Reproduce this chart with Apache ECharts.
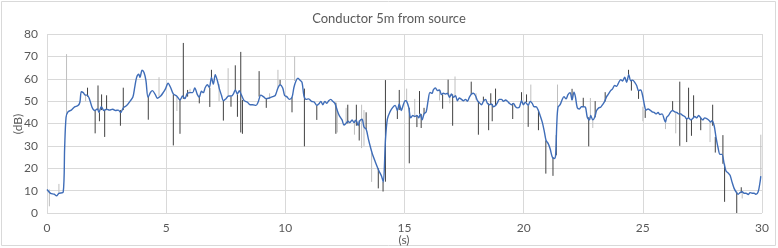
<!DOCTYPE html>
<html>
<head>
<meta charset="utf-8">
<script src="https://cdn.jsdelivr.net/npm/echarts@6/dist/echarts.min.js"></script>
<style>html,body{margin:0;padding:0;background:#fff}#c{width:778px;height:248px}</style>
</head>
<body>
<div id="c"></div>
<script>
// Blue line: time (s) and level (dB)
const times = [0.00,0.15,0.30,0.40,0.50,0.68,0.74,0.80,0.88,1.02,1.16,1.30,1.38,1.44,1.52,1.61,1.69,1.78,1.89,2.00,2.11,2.18,2.28,2.39,2.50,2.62,2.76,2.87,2.99,3.09,3.20,3.34,3.48,3.60,3.68,3.76,3.85,3.90,3.99,4.07,4.15,4.24,4.35,4.42,4.54,4.63,4.77,4.88,4.97,5.08,5.19,5.30,5.44,5.58,5.69,5.78,5.89,6.00,6.11,6.20,6.31,6.39,6.48,6.56,6.64,6.73,6.81,6.90,6.98,7.06,7.15,7.23,7.32,7.40,7.51,7.62,7.74,7.82,7.90,7.99,8.07,8.15,8.27,8.41,8.52,8.63,8.77,8.86,8.97,9.08,9.19,9.33,9.47,9.58,9.69,9.78,9.89,9.97,10.06,10.17,10.28,10.36,10.45,10.53,10.61,10.70,10.78,10.87,10.98,11.10,11.21,11.32,11.40,11.49,11.57,11.66,11.74,11.82,11.91,11.99,12.08,12.18,12.27,12.38,12.46,12.55,12.63,12.71,12.80,12.88,12.97,13.05,13.13,13.22,13.30,13.39,13.50,13.64,13.78,13.92,14.03,14.11,14.20,14.28,14.39,14.50,14.61,14.70,14.78,14.87,14.95,15.03,15.09,15.18,15.26,15.35,15.43,15.52,15.60,15.66,15.74,15.82,15.91,15.99,16.07,16.16,16.21,16.30,16.38,16.47,16.55,16.63,16.72,16.80,16.89,16.97,17.05,17.14,17.22,17.30,17.39,17.47,17.56,17.64,17.72,17.81,17.89,17.98,18.06,18.14,18.23,18.31,18.40,18.48,18.56,18.65,18.73,18.82,18.90,18.98,19.07,19.15,19.24,19.32,19.40,19.49,19.57,19.66,19.74,19.82,19.91,19.99,20.07,20.19,20.27,20.36,20.44,20.52,20.61,20.69,20.78,20.86,20.94,21.03,21.11,21.20,21.28,21.34,21.39,21.44,21.53,21.61,21.69,21.78,21.86,21.95,22.03,22.11,22.17,22.25,22.34,22.42,22.50,22.59,22.67,22.76,22.81,22.90,22.98,23.06,23.15,23.23,23.31,23.40,23.48,23.56,23.65,23.73,23.82,23.90,23.98,24.07,24.15,24.24,24.32,24.41,24.49,24.57,24.66,24.74,24.82,24.91,24.99,25.07,25.13,25.22,25.30,25.39,25.47,25.55,25.64,25.72,25.81,25.89,25.95,26.00,26.08,26.17,26.25,26.34,26.42,26.50,26.59,26.67,26.76,26.84,26.92,27.01,27.09,27.18,27.26,27.34,27.43,27.51,27.60,27.68,27.76,27.85,27.90,27.99,28.07,28.15,28.24,28.32,28.41,28.49,28.58,28.66,28.74,28.83,28.91,29.00,29.08,29.17,29.25,29.33,29.42,29.50,29.59,29.67,29.75,29.84,29.92,29.95];
const levels = [10.5,8.8,8.4,7.7,8.8,9.3,29,42.8,45.2,46,47.4,48,49.5,54.2,53.8,52.7,52.7,51,47.3,45.8,46.5,45,47.5,45.8,46.4,46,46.4,45.8,46,44.9,47,48,49.9,51.7,56.1,60.6,62,60.6,63.8,62.8,59.3,51.7,54,54.7,53,51.3,52.3,53.9,55.5,58,56,53.2,52.3,50.5,52.3,51.1,53.5,53.8,53.8,55.9,52.9,51.7,54.4,53.8,56.1,57.3,56.1,60.6,57.6,61.8,59.1,55.6,52.6,50.2,51.1,52.3,52.3,53.2,55,53.2,54.7,52.9,50.2,49.5,48.4,48.4,48.1,49.6,52.7,52,51.1,51.4,52,52.6,55.9,57.3,55.9,52.5,52,50.8,51.7,56.1,59.1,60.3,59.4,58.4,52.4,50.8,51,49.9,49.6,48.1,48.7,49.9,48.4,49.9,49,50.2,50.8,49.9,49,45.8,43.4,41.6,39.3,40.1,41,40.4,41.6,40.4,41.6,39.1,41.3,41.9,38.4,37.5,32.4,26.8,22.7,19,16.7,13.9,32.4,42,45.2,47.1,48.1,45.8,48.7,45.8,48.4,50.2,49.9,47.1,42.5,43.6,43.1,43.6,42.5,44.3,41.6,44.3,45.2,50.2,53.9,53.5,55,55.9,54.7,55,52.9,53.5,53.2,53.5,51.7,53.2,51.7,52.4,50.2,51.4,50.8,50.2,50.8,49.9,51.7,53.2,53.5,52.4,50.2,49.3,48.4,49.9,50.8,49,48.4,48.7,47.5,48,49.3,50.8,50.8,49.9,50.5,49.9,49,48.4,49,47.5,47,47.3,50.2,48.4,49.5,48.1,49.9,49,47.5,47.5,46,43.6,40.6,36.8,32.4,31,28.7,25,24.3,25.8,39.8,47.3,48.4,50.5,52,51,52.9,53.8,50.5,54,52,47,46.5,47.5,47.5,47.3,42.8,41.6,43.6,41.6,42.8,45.8,47,47.3,48.4,49.9,52,53.2,54.7,55.5,57,56.6,58.1,59.6,59,60.7,58.4,61.8,59.1,59.4,58.4,57,54.7,55,52.5,48.1,46,46.5,46,45.2,45,44.3,44.9,44,44.3,42.1,40.6,42.8,43.6,45.2,45.8,45.2,45,44.3,44.3,43.6,43.1,42.1,42.5,41.6,42.2,43.1,42.5,43.6,42.5,41.6,42.5,42.2,41.6,40.6,41.3,39.1,33.9,29.5,26.2,26.2,22.1,18.8,17.9,16.9,13.9,11,9.5,8.4,9.1,9.5,8.8,8.8,8.3,9.1,8.8,8.8,8.4,9.5,13.9,16.5];

// Dark error bars: time, low, high
const darkT  = [1.70,2.02,2.14,2.20,2.29,2.42,2.50,3.08,3.20,4.25,5.30,5.58,5.72,5.90,6.39,6.83,6.90,7.40,7.72,7.90,7.99,8.13,8.20,8.90,9.20,9.78,10.28,10.80,11.32,12.12,12.62,12.98,13.10,13.39,13.90,14.10,14.20,14.70,14.78,15.20,15.52,15.63,15.70,15.82,16.60,16.83,17.02,17.80,18.10,18.31,18.53,18.62,18.68,18.82,19.54,19.91,20.12,20.19,20.62,20.93,21.23,21.37,22.03,22.50,22.73,23.00,23.42,24.40,24.52,24.82,25.10,26.25,26.55,26.84,26.92,27.04,27.13,27.43,27.93,28.04,28.36,28.43,28.94,29.13];
const darkLo = [52,35.6,46,41,46,34,46,39,46,41.7,30.2,35.4,51,52,49,47.4,60.6,41.3,47.5,55,43,36,35.4,52,47,57.3,45,29.8,41.6,35.4,40,39,32.4,37.5,11,9.6,14,42,46,22.2,38.4,44.3,38,44.3,46.6,53,39,53,35,49.9,37,48.4,41,48,42,50,49.6,38.5,37,17.6,16.6,25.8,50.5,47.5,29.8,42.8,49.9,61.8,54.7,51,42.5,45.8,30,31.7,42.5,34.5,42.5,37,39,27,22,5,0,9];
const darkHi = [56,46,57,45,53,46,52.6,46,56,52,53,50.5,76,55,52.5,56,64,50.2,52,66,53,72,50.5,63.4,51,59.5,51.7,55.6,48,49.3,48.4,48.4,41.3,45,20,14,59.4,46,55,47,43.6,54.5,44.3,47,53,59.6,53,58.7,50,52,49,53.5,48.7,55.6,49,54,53,48,46,32.4,25,34.8,55.5,51.5,42.8,50,54,64,59.4,54.7,46,50,58.7,42,56,41.6,52.6,42.5,48.4,34,34.8,22,9.5,11.5];

// Light error bars: time, low, high
const lightT  = [0.10,0.50,0.82,1.62,4.70,5.45,6.00,7.22,7.60,9.34,9.69,10.39,12.18,12.55,12.90,13.20,13.30,13.62,15.09,15.43,16.47,16.90,17.12,18.00,20.30,21.42,22.80,22.90,25.00,25.95,26.38,27.82,29.17,29.95];
const lightLo = [3,8.8,43,50,52,45.6,53.8,50,52,51,56,59,36,40,35,29,30,13.9,50,43,50.3,49,51.7,50.6,50,47.3,43.6,38,41,37.5,35.6,31.7,6.5,16.5];
const lightHi = [10.5,13,71,53,60.7,52,55.5,57.6,64.7,53.5,64,70,46,47,41.6,48.4,46,27,55.6,51,55,53,61,53.5,57.4,57.4,51.4,41.6,47.5,40.6,45,40.6,9.5,35];

// Axis ticks and titles
const xTicks = [0,5,10,15,20,25,30];
const yTicks = [0,10,20,30,40,50,60,70,80];
const xTitle = '(s)';
const yTitle = '(dB)';

const FONT = 'Lato';
const lineData = times.map((t, i) => [t, levels[i]]);
const darkData = darkT.map((t, i) => [t, darkLo[i], darkHi[i]]);
const lightData = lightT.map((t, i) => [t, lightLo[i], lightHi[i]]);

function barRenderer(color) {
  return function (params, api) {
    const p1 = api.coord([api.value(0), api.value(1)]);
    const p2 = api.coord([api.value(0), api.value(2)]);
    return {
      type: 'line',
      shape: { x1: p1[0], y1: p1[1], x2: p2[0], y2: p2[1] },
      style: { stroke: color, lineWidth: 1 }
    };
  };
}

const chart = echarts.init(document.getElementById('c'), null, { renderer: 'canvas' });
chart.setOption({
  animation: false,
  backgroundColor: '#fff',
  title: {
    text: 'Conductor 5m from source',
    left: 'center',
    top: 7,
    textStyle: { fontFamily: FONT, fontSize: 13, fontWeight: 'normal', color: '#595959' }
  },
  graphic: [
    {
      type: 'rect',
      shape: { x: 1.5, y: 1.5, width: 774, height: 244 },
      style: { fill: 'none', stroke: '#d9d9d9', lineWidth: 1 },
      silent: true
    },
    {
      type: 'text', x: 18, y: 124, rotation: Math.PI / 2,
      style: { text: yTitle, fontFamily: FONT, fontSize: 12, fill: '#595959', align: 'center', verticalAlign: 'middle' }
    },
    {
      type: 'text', x: 404, y: 240,
      style: { text: xTitle, fontFamily: FONT, fontSize: 12, fill: '#595959', align: 'center', verticalAlign: 'middle' }
    }
  ],
  grid: { left: 47, right: 16, top: 34, bottom: 35, containLabel: false, outerBoundsMode: 'none' },
  xAxis: {
    type: 'value',
    min: xTicks[0], max: xTicks[xTicks.length - 1], interval: 5,
    axisLine: { show: false }, axisTick: { show: false },
    axisLabel: { fontFamily: FONT, fontSize: 12, color: '#595959', margin: 9 },
    splitLine: { show: true, lineStyle: { color: '#d9d9d9', width: 1 } }
  },
  yAxis: {
    type: 'value',
    min: yTicks[0], max: yTicks[yTicks.length - 1], interval: 10,
    axisLine: { show: false }, axisTick: { show: false },
    axisLabel: { fontFamily: FONT, fontSize: 12, color: '#595959', margin: 9 },
    splitLine: { show: true, lineStyle: { color: '#d9d9d9', width: 1 } }
  },
  series: [
    {
      type: 'custom', name: 'light', data: lightData,
      encode: { x: 0, y: [1, 2] }, renderItem: barRenderer('#bfbfbf'), z: 2
    },
    {
      type: 'custom', name: 'dark', data: darkData,
      encode: { x: 0, y: [1, 2] }, renderItem: barRenderer('#404040'), z: 3
    },
    {
      type: 'line', name: 'level', data: lineData,
      showSymbol: false, smooth: 0.3,
      lineStyle: { color: '#3f6db8', width: 1.4 }, z: 4
    }
  ]
});
</script>
</body>
</html>
